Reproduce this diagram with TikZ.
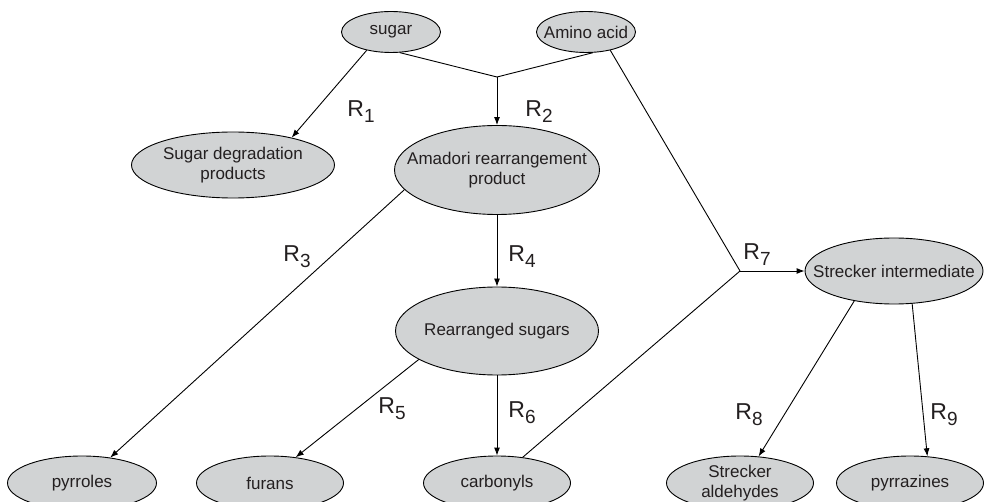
\documentclass[tikz,border=0pt]{standalone}
\usepackage{fontspec}
\setmainfont{Liberation Sans}
\usetikzlibrary{arrows.meta, shapes.geometric}

\definecolor{nodegray}{RGB}{209,211,212}
\definecolor{inkgray}{RGB}{35,31,32}

\newcommand{\rxn}[1]{R\raisebox{-6pt}{\fontsize{19}{19}\selectfont #1}}

\tikzset{
    species/.style={ellipse, draw=black, fill=nodegray, line width=0.9pt, inner sep=0pt},
    every label/.style={align=center, text=inkgray, font=\fontsize{17}{20}\selectfont},
    rlab/.style={anchor=base west, inner sep=0pt, text=inkgray, font=\fontsize{23}{23}\selectfont},
    >={Latex[length=8pt,width=6pt]}
}

\begin{document}
\begin{tikzpicture}[x=1pt, y=-1pt, line width=0.9pt]
    \useasboundingbox (0, 0) rectangle (987, 502);

    \node[species, minimum width=99pt, minimum height=41pt, label=center:sugar] (sugar) at (391, 32) {};
    \node[species, minimum width=99pt, minimum height=41pt, label=center:Amino acid] (amino) at (586, 32) {};
    \node[species, minimum width=203pt, minimum height=66pt, label={center:{Sugar degradation\\products}}] (sdp) at (233, 165) {};
    \node[species, minimum width=205pt, minimum height=89pt, label={center:{Amadori rearrangement\\product}}] (amadori) at (497, 170) {};
    \node[species, minimum width=203pt, minimum height=88pt, label=center:Rearranged sugars] (rsugars) at (497, 331) {};
    \node[species, minimum width=178pt, minimum height=66pt, label=center:Strecker intermediate] (si) at (894, 271) {};
    \node[species, minimum width=149pt, minimum height=54pt, label=center:pyrroles] (pyrroles) at (82, 483) {};
    \node[species, minimum width=147pt, minimum height=54pt, label=center:furans] (furans) at (270, 483) {};
    \node[species, minimum width=147pt, minimum height=54pt, label=center:carbonyls] (carbonyls) at (497, 483) {};
    \node[species, minimum width=147pt, minimum height=54pt, label={center:{Strecker\\aldehydes}}] (sald) at (740, 483) {};
    \node[species, minimum width=147pt, minimum height=54pt, label=center:pyrrazines] (pyrrazines) at (910, 483) {};

    \coordinate (j1) at (497, 77);
    \coordinate (j2) at (740, 271);

    \draw (sugar.293) -- (j1);
    \draw (amino.288) -- (j1);
    \draw[->] (j1) -- (amadori.north);
    \draw[->] (sugar.217) -- (sdp.25);
    \draw (amino.323) -- (j2);
    \draw (carbonyls.45) -- (j2);
    \draw[->] (j2) -- (si.west);
    \draw[->] (amadori.192) -- (pyrroles.42);
    \draw[->] (amadori.south) -- (rsugars.north);
    \draw[->] (rsugars.200) -- (furans.45);
    \draw[->] (rsugars.south) -- (carbonyls.north);
    \draw[->] (si.217) -- (sald.55);
    \draw[->] (si.299) -- (pyrrazines.57);

    \node[rlab] (r1) at (347, 117) {\rxn{1}};
    \node[rlab] (r2) at (525, 117) {\rxn{2}};
    \node[rlab] (r3) at (283, 262) {\rxn{3}};
    \node[rlab] (r4) at (508, 262) {\rxn{4}};
    \node[rlab] (r5) at (378, 413) {\rxn{5}};
    \node[rlab] (r6) at (508, 417) {\rxn{6}};
    \node[rlab] (r7) at (743, 260) {\rxn{7}};
    \node[rlab] (r8) at (735, 419) {\rxn{8}};
    \node[rlab] (r9) at (930, 419) {\rxn{9}};
\end{tikzpicture}
\end{document}
